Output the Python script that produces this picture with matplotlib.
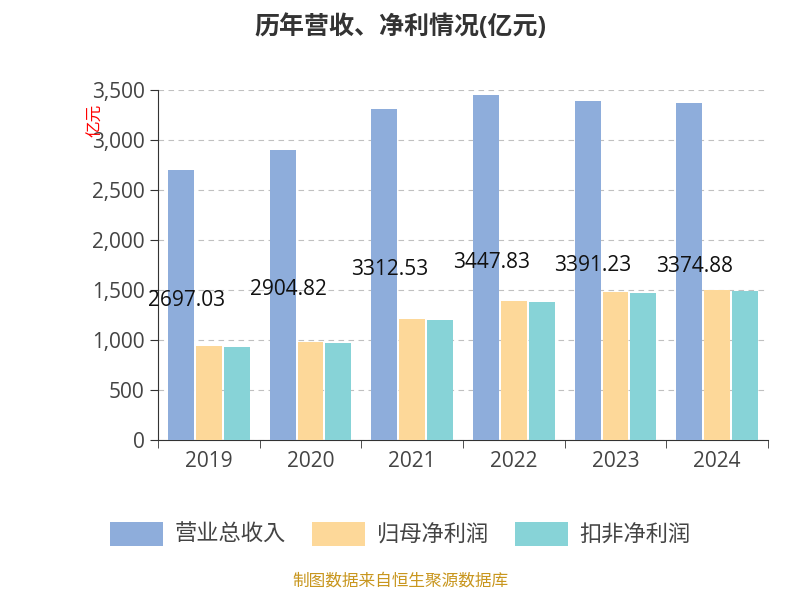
import matplotlib
matplotlib.use("Agg")
import matplotlib.pyplot as plt
import numpy as np

plt.rcParams['font.family'] = ['Open Sans', 'Noto Sans CJK SC', 'Noto Sans CJK JP', 'Noto Sans CJK TC', 'Noto Sans CJK KR', 'DejaVu Sans']

years = ["2019", "2020", "2021", "2022", "2023", "2024"]
revenue = [2697.03, 2904.82, 3312.53, 3447.83, 3391.23, 3374.88]
net_profit = [935, 975, 1210, 1390, 1475, 1495]
deducted = [930, 972, 1203, 1382, 1470, 1490]
series_names = ["营业总收入", "归母净利润", "扣非净利润"]
colors = ["#8eaddb", "#fdd899", "#87d3d7"]

fig = plt.figure(figsize=(8, 6), dpi=100)
ax = fig.add_axes([0.1975, 0.2667, 0.7625, 0.5833])
x = np.arange(len(years))
w = 0.255
off = 0.275
for i, (vals, c, n) in enumerate(zip([revenue, net_profit, deducted], colors, series_names)):
    ax.bar(x + (i - 1) * off, vals, width=w, color=c, label=n, zorder=3)
for xi, v in zip(x, revenue):
    ax.text(xi - 0.22, v / 2 + 50, f"{v:.2f}", ha='center', va='center', fontsize=15, color='#111111', zorder=4)

ax.set_xlim(-0.5, len(years) - 0.5)
ax.set_ylim(0, 3500)
ax.set_yticks(range(0, 3501, 500))
ax.set_yticklabels([f"{v:,}" for v in range(0, 3501, 500)], fontsize=15, color='#444444')
ax.set_xticks(x)
ax.set_xticklabels(years, fontsize=15, color='#444444')
ax.set_xticks(np.arange(-0.5, len(years), 1), minor=True)
ax.tick_params(axis='x', which='major', length=0, pad=8)
ax.tick_params(axis='x', which='minor', length=6, color='#333333')
ax.tick_params(axis='y', length=6, color='#333333')
ax.grid(axis='y', linestyle=(0, (5, 4)), color='#c0c0c0', zorder=0)
for s in ['top', 'right']:
    ax.spines[s].set_visible(False)
ax.spines['left'].set_color('#333333')
ax.spines['bottom'].set_color('#333333')
fig.text(0.12, 0.8, "亿元", rotation=90, color='red', fontsize=12, ha='center', va='center')

fig.text(0.5, 0.955, "历年营收、净利情况(亿元)", ha='center', va='center', fontsize=18, fontweight='bold', color='#333333')
leg = fig.legend(loc='center', bbox_to_anchor=(0.5, 0.11), ncol=3, frameon=False, fontsize=16,
                 handlelength=2.4, handleheight=1.3, columnspacing=1.2, handletextpad=0.5)
for t in leg.get_texts():
    t.set_color('#444444')
fig.text(0.5, 0.018, "制图数据来自恒生聚源数据库", ha='center', va='bottom', fontsize=12, color='#c8961e')
fig.savefig("out.png")
